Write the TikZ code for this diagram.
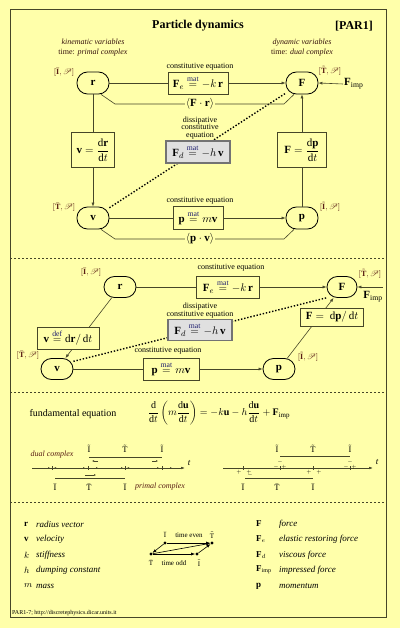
\documentclass[tikz,border=0pt]{standalone}
\usepackage{amsmath}
\usepackage{mathrsfs}
\usepackage{fontspec}
\setmainfont{Liberation Serif}
\setmathrm{Liberation Serif}
\setboldmathrm{Liberation Serif}
\usetikzlibrary{arrows.meta}
\definecolor{bg}{RGB}{255,255,170}
\definecolor{ln}{RGB}{70,70,40}
\definecolor{lbl}{RGB}{90,30,20}
\definecolor{matc}{RGB}{30,30,110}
\newcommand{\mateq}{\overset{\textcolor{matc}{\text{mat}}}{=}}
\begin{document}
\begin{tikzpicture}[x=1pt,y=-1pt,
  var/.style={draw=black, line width=0.8pt, rounded corners=10.5pt, minimum width=32pt, minimum height=22pt, inner sep=0pt, fill=bg, font=\fontsize{11}{13}\selectfont},
  eqbox/.style={draw=ln, line width=0.8pt, fill=bg, inner sep=2pt, font=\fontsize{11}{13}\selectfont},
  gbox/.style={eqbox, fill=black!12, draw=black!55, line width=1.2pt},
  conn/.style={draw=ln, line width=0.6pt},
  arr/.style={conn, -{Latex[length=4pt,width=3pt]}},
  dotl/.style={draw=black, line width=1.4pt, dash pattern=on 1.4pt off 1.8pt},
  lblsmall/.style={font=\fontsize{8}{9}\selectfont, inner sep=0pt},
  varlab/.style={font=\fontsize{8}{9}\selectfont, text=lbl, inner sep=0pt},
  tlab/.style={font=\fontsize{8.5}{9}\selectfont, inner sep=0pt},
  leg/.style={anchor=west, font=\fontsize{9}{10}\selectfont, inner sep=0pt},
  sep/.style={draw=ln, line width=0.5pt, dash pattern=on 2pt off 2pt},
  mdot/.style={circle, fill=black, inner sep=0pt, minimum size=3.2pt},
  tiny/.style={font=\fontsize{5}{5}\selectfont, inner sep=0pt}
]
\useasboundingbox (0,0) rectangle (400,628);
\fill[bg] (0,0) rectangle (400,628);
\draw[ln, line width=1pt] (10,10) rectangle (386,617);

% header
\node[font=\bfseries\fontsize{12}{14}\selectfont] (title) at (198,26) {Particle dynamics};
\node[font=\bfseries\fontsize{12}{14}\selectfont] (code) at (354,26) {[PAR1]};
\node[font=\fontsize{8}{10}\selectfont, align=center, text=lbl!60!black] (kin) at (93,48) {\textit{kinematic variables}\\time: \textit{primal complex}};
\node[font=\fontsize{8}{10}\selectfont, align=center, text=lbl!60!black] (dyn) at (302,48) {\textit{dynamic variables}\\time: \textit{dual complex}};

% ---------- top diagram
\node[var] (r1) at (93,83) {$\mathbf{r}$};
\node[var] (F1) at (302,83) {$\mathbf{F}$};
\node[var] (v1) at (93,218) {$\mathbf{v}$};
\node[var] (p1) at (302,218) {$\mathbf{p}$};
\node[varlab] (lr1) at (64,72) {$[\bar{\mathbf{I}},\mathscr{P}]$};
\node[varlab] (lF1) at (330,71) {$[\tilde{\mathbf{T}},\mathscr{P}]$};
\node[varlab] (lv1) at (64,207) {$[\bar{\mathbf{T}},\mathscr{P}]$};
\node[varlab] (lp1) at (330,207) {$[\tilde{\mathbf{I}},\mathscr{P}]$};

\draw[dotl] (v1.32) -- (F1.212);

\node[eqbox, minimum width=60pt, minimum height=22pt] (Fe1) at (198,83) {$\mathbf{F}_e \mateq -k\,\mathbf{r}$};
\node[lblsmall] (ce1) at (200,67) {constitutive equation};
\node[eqbox, minimum width=43pt, minimum height=35pt] (vb1) at (93,150) {$\mathbf{v} = \dfrac{\mathrm{d}\mathbf{r}}{\mathrm{d}t}$};
\node[eqbox, minimum width=49pt, minimum height=35pt] (Fb1) at (302,150) {$\mathbf{F} = \dfrac{\mathrm{d}\mathbf{p}}{\mathrm{d}t}$};
\node[eqbox, minimum width=50pt, minimum height=23pt] (pb1) at (198,218) {$\mathbf{p} \mateq m\mathbf{v}$};
\node[lblsmall] (ce2) at (200,201) {constitutive equation};
\node[gbox, minimum width=64pt, minimum height=22pt] (Fd1) at (198,152) {$\mathbf{F}_d \mateq -h\,\mathbf{v}$};
\node[font=\fontsize{8}{7.3}\selectfont, align=center, inner sep=0pt] (dc1) at (200,128) {dissipative\\constitutive\\equation};

\draw[conn] (r1) -- (Fe1);
\draw[arr] (Fe1) -- (F1);
\draw[conn] (r1) -- (vb1);
\draw[arr] (vb1) -- (v1);
\draw[conn] (v1) -- (pb1);
\draw[arr] (pb1) -- (p1);
\draw[conn] (p1) -- (Fb1);
\draw[arr] (Fb1) -- (F1);

\node[font=\fontsize{11}{13}\selectfont, inner sep=1pt] (Fr) at (200,104) {$\langle\mathbf{F}\cdot\mathbf{r}\rangle$};
\coordinate (fra) at (115,104);
\coordinate (frb) at (284,104);
\draw[conn] (r1.-55) -- (fra) -- (Fr.west);
\draw[conn] (Fr.east) -- (frb) -- (F1.-125);
\node[font=\fontsize{11}{13}\selectfont, inner sep=1pt] (pv) at (200,239) {$\langle\mathbf{p}\cdot\mathbf{v}\rangle$};
\coordinate (pva) at (115,239);
\coordinate (pvb) at (284,239);
\draw[conn] (v1.-55) -- (pva) -- (pv.west);
\draw[conn] (pv.east) -- (pvb) -- (p1.-125);

\node[font=\fontsize{11}{13}\selectfont, inner sep=1pt, anchor=west] (Fimp1) at (343,84) {$\mathbf{F}_{\text{imp}}$};
\draw[arr] (Fimp1.west) -- (F1.east);

\draw[sep] (10,258) -- (386,258);

% ---------- second diagram
\node[var, minimum height=21pt] (r2) at (120,287) {$\mathbf{r}$};
\node[var, minimum height=21pt, minimum width=30pt] (F2) at (342,287) {$\mathbf{F}$};
\node[var, minimum height=21pt] (v2) at (57,369) {$\mathbf{v}$};
\node[var, minimum height=21pt] (p2) at (279,369) {$\mathbf{p}$};
\node[varlab] (lr2) at (91,272) {$[\bar{\mathbf{I}},\mathscr{P}]$};
\node[varlab] (lF2) at (370,274) {$[\tilde{\mathbf{T}},\mathscr{P}]$};
\node[varlab] (lv2) at (28,355) {$[\bar{\mathbf{T}},\mathscr{P}]$};
\node[varlab] (lp2) at (308,357) {$[\tilde{\mathbf{I}},\mathscr{P}]$};

\draw[dotl] (v2.25) -- (F2.215);
\draw[arr] (r2) -- (v2);
\draw[arr] (p2) -- (F2);

\node[eqbox, minimum width=63pt, minimum height=22pt] (Fe2) at (228,287) {$\mathbf{F}_e \mateq -k\,\mathbf{r}$};
\node[lblsmall] (ce3) at (231,268) {constitutive equation};
\node[gbox, minimum width=64pt, minimum height=21pt] (Fd2) at (200,330) {$\mathbf{F}_d \mateq -h\,\mathbf{v}$};
\node[font=\fontsize{8}{7.3}\selectfont, align=center, inner sep=0pt] (dc2) at (200,310.5) {dissipative\\constitutive equation};
\node[eqbox, minimum width=62pt, minimum height=22pt] (vb2) at (68,338) {$\mathbf{v} \overset{\textcolor{matc}{\text{def}}}{=} \mathrm{d}\mathbf{r}/\,\mathrm{d}t$};
\node[eqbox, minimum width=63pt, minimum height=18pt] (Fb2) at (332,317) {$\mathbf{F} =\ \mathrm{d}\mathbf{p}/\,\mathrm{d}t$};
\node[eqbox, minimum width=56pt, minimum height=22pt] (pb2) at (171,369) {$\mathbf{p} \mateq m\mathbf{v}$};
\node[lblsmall] (ce4) at (168,351) {constitutive equation};

\draw[conn] (r2) -- (Fe2);
\draw[arr] (Fe2) -- (F2);
\draw[conn] (v2) -- (pb2);
\draw[arr] (pb2) -- (p2);
\node[font=\fontsize{11}{13}\selectfont, inner sep=0pt] (Fimp2) at (373,297) {$\mathbf{F}_{\text{imp}}$};
\coordinate (fi2) at (383,287);
\draw[arr] (fi2) -- (F2.east);

\draw[sep] (10,392) -- (386,392);

% ---------- fundamental equation
\node[font=\fontsize{10}{12}\selectfont, inner sep=0pt] (fe) at (73,414) {fundamental equation};
\node[font=\fontsize{10}{12}\selectfont, inner sep=0pt] (feq) at (219,413) {$\dfrac{\mathrm{d}}{\mathrm{d}t}\left(m\dfrac{\mathrm{d}\mathbf{u}}{\mathrm{d}t}\right) = -k\mathbf{u} - h\dfrac{\mathrm{d}\mathbf{u}}{\mathrm{d}t} + \mathbf{F}_{\text{imp}}$};

% left time diagram
\coordinate (ta1) at (32,468);
\coordinate (tb1) at (185,468);
\draw[conn, -{Latex[length=4pt,width=2.6pt]}] (ta1) -- (tb1);
\node[tlab, font=\itshape\fontsize{9}{10}\selectfont] (t1) at (189,463) {t};
\node[font=\itshape\fontsize{8}{9}\selectfont, text=lbl, inner sep=0pt] (dcx) at (52,455) {dual complex};
\node[font=\itshape\fontsize{8}{9}\selectfont, text=lbl, inner sep=0pt] (pcx) at (160,487) {primal complex};
\node[tlab] (d1) at (89,449) {$\tilde{\mathrm{I}}$};
\node[tlab] (d2) at (125,449) {$\tilde{\mathrm{T}}$};
\node[tlab] (d3) at (162,449) {$\tilde{\mathrm{I}}$};
\node[tlab] (q1) at (55,487) {$\bar{\mathrm{I}}$};
\node[tlab] (q2) at (89,487) {$\bar{\mathrm{T}}$};
\node[tlab] (q3) at (125,487) {$\bar{\mathrm{I}}$};
\coordinate (du1) at (89,457); \coordinate (du2) at (162,457);
\coordinate (pu1) at (55,478); \coordinate (pu2) at (125,478);
\draw[conn] (du1) -- (du2);
\draw[conn] (pu1) -- (pu2);
\foreach \x in {52,125} {
  \draw[conn, line width=0.4pt, -{Latex[length=2pt,width=1.8pt]}] (\x-8,468) -- (\x-2,468);
  \draw[conn, line width=0.4pt, -{Latex[length=2pt,width=1.8pt]}] (\x+8,468) -- (\x+2,468);
  \draw[ln, line width=0.7pt] (\x,466) -- (\x,470);
}
\foreach \x in {88,162} {
  \draw[conn, line width=0.4pt, -{Latex[length=2pt,width=1.8pt]}] (\x-10,468) -- (\x-3,468);
  \draw[conn, line width=0.4pt, -{Latex[length=2pt,width=1.8pt]}] (\x+3,468) -- (\x+10,468);
  \draw[ln, line width=0.7pt] (\x,466) -- (\x,470);
}
\draw[conn, line width=0.4pt, -{Latex[length=2pt,width=1.8pt]}] (98,461) -- (92,461);
\draw[conn, line width=0.4pt, -{Latex[length=2pt,width=1.8pt]}] (152,461) -- (158,461);
\draw[conn, line width=0.4pt, -{Latex[length=2pt,width=1.8pt]}] (85,475) -- (96,475);

% right time diagram
\coordinate (ta2) at (223,468);
\coordinate (tb2) at (373,468);
\draw[conn, -{Latex[length=4pt,width=2.6pt]}] (ta2) -- (tb2);
\node[tlab, font=\itshape\fontsize{9}{10}\selectfont] (t2) at (377,462) {t};
\node[tlab] (e1) at (277,449) {$\tilde{\mathrm{I}}$};
\node[tlab] (e2) at (313,449) {$\tilde{\mathrm{T}}$};
\node[tlab] (e3) at (350,449) {$\tilde{\mathrm{I}}$};
\node[tlab] (s1) at (243,487) {$\bar{\mathrm{I}}$};
\node[tlab] (s2) at (277,487) {$\bar{\mathrm{T}}$};
\node[tlab] (s3) at (313,487) {$\bar{\mathrm{I}}$};
\coordinate (eu1) at (280,456); \coordinate (eu2) at (350,456);
\coordinate (su1) at (245,478); \coordinate (su2) at (313,478);
\draw[conn] (eu1) -- (eu2);
\draw[conn] (su1) -- (su2);
\foreach \x in {243,313} {
  \draw[ln, line width=0.7pt] (\x,466) -- (\x,470);
  \node[tiny] at (\x-4,472) {$+$};
  \node[tiny] at (\x+6,472) {$+$};
}
\foreach \x in {280,350} {
  \draw[ln, line width=0.7pt] (\x,466) -- (\x,470);
  \node[tiny] at (\x,462) {$-$};
  \node[tiny] at (\x-4,467.5) {$-$};
  \node[tiny] at (\x+4,467.5) {$+$};
}
\node[tiny] at (250,475) {$-$};

\draw[sep] (10,502) -- (386,502);

% ---------- legend
\node[leg] (Lr) at (24,524) {$\mathbf{r}$};
\node[leg, font=\itshape\fontsize{9}{10}\selectfont] (Lrt) at (36,524) {radius vector};
\node[leg] (Lv) at (24,539) {$\mathbf{v}$};
\node[leg, font=\itshape\fontsize{9}{10}\selectfont] (Lvt) at (36,539) {velocity};
\node[leg] (Lk) at (24,555) {$k$};
\node[leg, font=\itshape\fontsize{9}{10}\selectfont] (Lkt) at (36,555) {stiffness};
\node[leg] (Lh) at (24,570) {$h$};
\node[leg, font=\itshape\fontsize{9}{10}\selectfont] (Lht) at (36,570) {dumping constant};
\node[leg] (Lm) at (24,586) {$m$};
\node[leg, font=\itshape\fontsize{9}{10}\selectfont] (Lmt) at (36,586) {mass};

\node[leg] (LF) at (256,524) {$\mathbf{F}$};
\node[leg, font=\itshape\fontsize{9}{10}\selectfont] (LFt) at (279,524) {force};
\node[leg] (LFe) at (256,539) {$\mathbf{F}_{e}$};
\node[leg, font=\itshape\fontsize{9}{10}\selectfont] (LFet) at (279,539) {elastic restoring force};
\node[leg] (LFd) at (256,555) {$\mathbf{F}_{d}$};
\node[leg, font=\itshape\fontsize{9}{10}\selectfont] (LFdt) at (279,555) {viscous force};
\node[leg] (LFi) at (256,570) {$\mathbf{F}_{\text{imp}}$};
\node[leg, font=\itshape\fontsize{9}{10}\selectfont] (LFit) at (279,570) {impressed force};
\node[leg] (Lp) at (256,586) {$\mathbf{p}$};
\node[leg, font=\itshape\fontsize{9}{10}\selectfont] (Lpt) at (279,586) {momentum};

% mini diagram
\node[mdot] (ma) at (165,543) {};
\node[mdot] (mb) at (212,543) {};
\node[mdot] (mc) at (151,554) {};
\node[mdot] (md) at (197,554) {};
\node[font=\fontsize{7}{8}\selectfont, inner sep=0pt] (mal) at (165,535) {$\bar{\mathrm{I}}$};
\node[font=\fontsize{7}{8}\selectfont, inner sep=0pt] (mbl) at (212,535) {$\tilde{\mathrm{T}}$};
\node[font=\fontsize{7}{8}\selectfont, inner sep=0pt] (mcl) at (151,563) {$\bar{\mathrm{T}}$};
\node[font=\fontsize{7}{8}\selectfont, inner sep=0pt] (mdl) at (199,563) {$\tilde{\mathrm{I}}$};
\node[font=\fontsize{7}{8}\selectfont, inner sep=0pt] (mev) at (189,535) {time even};
\node[font=\fontsize{7}{8}\selectfont, inner sep=0pt] (mod) at (174,563) {time odd};
\draw[arr, draw=black] (ma) -- (mc);
\draw[arr, draw=black] (ma) -- (mb);
\draw[arr, draw=black] (mc) -- (mb);
\draw[arr, draw=black] (mc) -- (md);
\draw[arr, draw=black] (md) -- (mb);

% footer
\node[anchor=west, font=\fontsize{6}{7}\selectfont, inner sep=0pt] (foot) at (12,613) {PAR1-7; http://discretephysics.dicar.units.it};
\end{tikzpicture}
\end{document}
